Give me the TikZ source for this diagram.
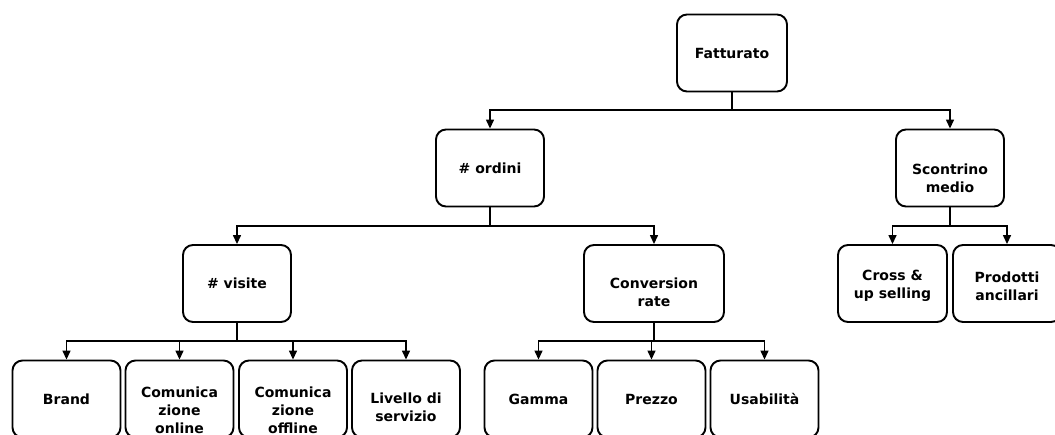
\documentclass[tikz,border=0pt]{standalone}
\usepackage{fontspec}
\setmainfont{DejaVu Sans}
\usetikzlibrary{arrows.meta}
\newcommand{\dropln}[1]{\rule{0pt}{#1}}
\tikzset{
  box/.style={draw, line width=1.9pt, rounded corners=10pt, minimum width=108pt,
    minimum height=77pt, align=center, inner sep=2pt,
    font=\fontsize{14}{18}\selectfont\bfseries},
  wbox/.style={box, minimum width=140pt},
  conn/.style={line width=1.4pt},
  arr/.style={conn, -{Triangle[length=9pt,width=8pt]}}
}
\begin{document}
\begin{tikzpicture}[x=1pt,y=-1pt]
\useasboundingbox (0,0) rectangle (1055,434);
\clip (0,0) rectangle (1055,434);
% nodes
\node[box, minimum width=110pt] (F) at (732,53) {Fatturato};
\node[box] (O) at (490,168) {\# ordini};
\node[box] (S) at (950,168) {\dropln{30.6pt}Scontrino\\medio};
\node[box] (V) at (237,283.5) {\# visite};
\node[wbox] (C) at (654,283.5) {\dropln{28.6pt}Conversion\\rate};
\node[box, minimum width=109pt] (X) at (892.5,283.5) {\dropln{15.6pt}Cross \&\\up selling};
\node[box] (P) at (1007,283.5) {\dropln{15.6pt}Prodotti\\ancillari};
\node[box] (B1) at (66.5,399) {Brand};
\node[box] (B2) at (179.5,399) {\dropln{32.6pt}Comunica\\zione\\online};
\node[box] (B3) at (293,399) {\dropln{32.6pt}Comunica\\zione\\offline};
\node[box] (B4) at (406,399) {\dropln{26.6pt}Livello di\\servizio};
\node[box] (G1) at (538.5,399) {Gamma};
\node[box] (G2) at (651.5,399) {Prezzo};
\node[box] (G3) at (764.5,399) {Usabilità};
% buses
\coordinate (bF) at (732,110);
\coordinate (bO) at (490,226);
\coordinate (bS) at (950,226);
\coordinate (bV) at (237,341);
\coordinate (bC) at (654,341);
\draw[conn] (F.south) -- (bF);
\draw[arr] (bF) -| (O);
\draw[arr] (bF) -| (S);
\draw[conn] (O.south) -- (bO);
\draw[arr] (bO) -| (V);
\draw[arr] (bO) -| (C);
\draw[conn] (S.south) -- (bS);
\draw[arr] (bS) -| (X);
\draw[arr] (bS) -| (P);
\draw[conn] (V.south) -- (bV);
\draw[arr] (bV) -| (B1);
\draw[arr] (bV) -| (B2);
\draw[arr] (bV) -| (B3);
\draw[arr] (bV) -| (B4);
\draw[conn] (C.south) -- (bC);
\draw[arr] (bC) -| (G1);
\draw[arr] (bC) -| (G2);
\draw[arr] (bC) -| (G3);
\end{tikzpicture}
\end{document}
